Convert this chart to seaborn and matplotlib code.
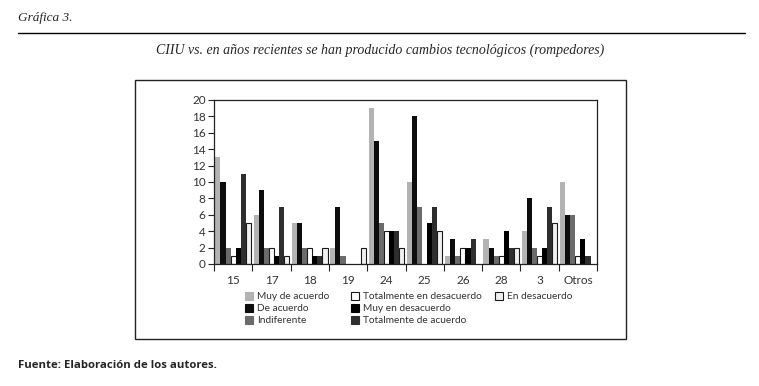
import pandas as pd
import seaborn as sns
import matplotlib.pyplot as plt
from matplotlib.patches import Patch, Rectangle
from matplotlib.lines import Line2D

sns.set_style('ticks')
plt.rcParams['font.family'] = ['Lato', 'DejaVu Sans']

ciiu = ['15', '17', '18', '19', '24', '25', '26', '28', '3', 'Otros']
respuestas = ['Muy de acuerdo', 'De acuerdo', 'Indiferente', 'Totalmente en desacuerdo',
              'Muy en desacuerdo', 'Totalmente de acuerdo', 'En desacuerdo']

muy_de_acuerdo = [13, 6, 5, 2, 19, 10, 1, 3, 4, 10]
de_acuerdo = [10, 9, 5, 7, 15, 18, 3, 2, 8, 6]
indiferente = [2, 2, 2, 1, 5, 7, 1, 1, 2, 6]
tot_en_desacuerdo = [1, 2, 2, 0, 4, 0, 2, 1, 1, 1]
muy_en_desacuerdo = [2, 1, 1, 0, 4, 5, 2, 4, 2, 3]
tot_de_acuerdo = [11, 7, 1, 0, 4, 7, 3, 2, 7, 1]
en_desacuerdo = [5, 1, 2, 2, 2, 4, 0, 2, 5, 0]

series = [muy_de_acuerdo, de_acuerdo, indiferente, tot_en_desacuerdo,
          muy_en_desacuerdo, tot_de_acuerdo, en_desacuerdo]
colores = ['#b3b3b3', '#0d0d0d', '#6b6b6b', '#ffffff', '#000000', '#2e2e2e', '#f0f0f2']
con_borde = {'Totalmente en desacuerdo', 'En desacuerdo'}

rows = []
for r, vals in zip(respuestas, series):
    for c, v in zip(ciiu, vals):
        rows.append({'ciiu': c, 'respuesta': r, 'valor': v})
df = pd.DataFrame(rows)

fig = plt.figure(figsize=(7.59, 3.86), dpi=100)
ax = fig.add_axes([214 / 759, 1 - 264 / 386, 383 / 759, 164 / 386])

sns.barplot(data=df, x='ciiu', y='valor', hue='respuesta', hue_order=respuestas,
            palette=colores, width=0.93, saturation=1, ax=ax, legend=False)

for cont, r in zip(ax.containers, respuestas):
    for bar in cont:
        if r in con_borde and bar.get_height() > 0:
            bar.set_edgecolor('#1a1a1a')
            bar.set_linewidth(0.8)
        else:
            bar.set_linewidth(0)

ax.set_ylim(0, 20)
ax.set_xlim(-0.5, len(ciiu) - 0.5)
ax.set_yticks(range(0, 21, 2))
ax.set_xticks([i - 0.5 for i in range(len(ciiu) + 1)], minor=True)
ax.tick_params(axis='x', which='major', length=0, pad=8, labelsize=8.5, colors='#333333')
ax.tick_params(axis='x', which='minor', length=5, width=0.8, color='#222222', direction='out')
ax.tick_params(axis='y', length=4, width=0.8, color='#222222', labelsize=8.5, labelcolor='#333333', pad=2)
ax.set_xlabel('')
ax.set_ylabel('')
for s in ax.spines.values():
    s.set_linewidth(0.9)
    s.set_color('#222222')

# leyenda en tres columnas (3, 3, 1)
handles = [Patch(facecolor=c, edgecolor='#1a1a1a' if r in con_borde else c, linewidth=0.8)
           for r, c in zip(respuestas, colores)]
columnas = [(0, 3, 245), (3, 6, 351), (6, 7, 495)]
for i0, i1, x0 in columnas:
    fig.legend(handles[i0:i1], respuestas[i0:i1], loc='upper left',
               bbox_to_anchor=(x0 / 759, 1 - 292 / 386), frameon=False, fontsize=7.3,
               handlelength=0.8, handleheight=0.8, handletextpad=0.4, labelspacing=0.25,
               borderaxespad=0, borderpad=0, labelcolor='#333333')

# marco exterior
fig.patches.append(Rectangle((135 / 759, 1 - 339 / 386), 491 / 759, 259 / 386,
                             transform=fig.transFigure, fill=False, edgecolor='#222222',
                             linewidth=1.0))

fig.text(18 / 759, 1 - 18 / 386, 'Gráfica 3.', fontsize=9.5, style='italic',
         family='Liberation Serif', va='center', ha='left')
fig.add_artist(Line2D([18 / 759, 745 / 759], [1 - 33 / 386, 1 - 33 / 386],
                      transform=fig.transFigure, color='black', linewidth=1.0))
fig.text(380 / 759, 1 - 50 / 386,
         'CIIU vs. en años recientes se han producido cambios tecnológicos (rompedores)',
         fontsize=10, style='italic', family='Liberation Serif', va='center', ha='center')
fig.text(18 / 759, 1 - 365 / 386, 'Fuente: Elaboración de los autores.', fontsize=8.2,
         weight='bold', va='center', ha='left', family=['Open Sans', 'DejaVu Sans'])

fig.savefig('out.png', dpi=100, facecolor='white')
